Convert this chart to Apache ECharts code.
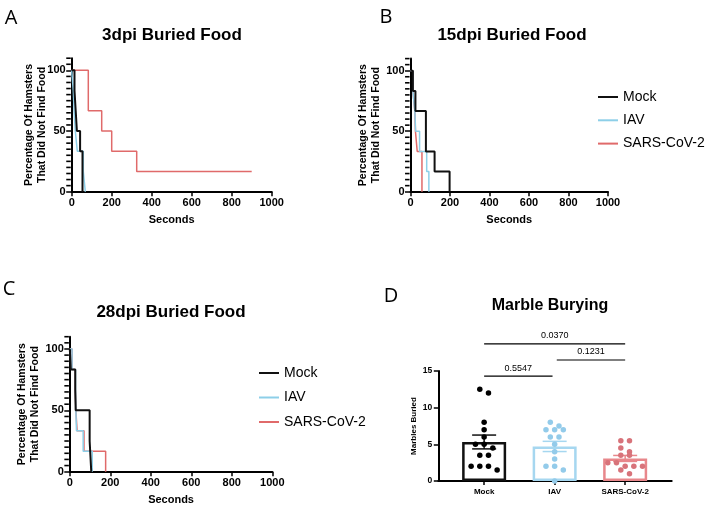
<!DOCTYPE html>
<html><head><meta charset="utf-8">
<script src="https://cdn.jsdelivr.net/npm/echarts@6/dist/echarts.min.js"></script>
<style>html,body{margin:0;padding:0;background:#fff}#c{width:712px;height:513px}</style>
</head><body><div id="c"></div>
<script>
// ---------- data ----------
const seriesNames = ['Mock', 'IAV', 'SARS-CoV-2'];
const panelTitles = ['3dpi Buried Food', '15dpi Buried Food', '28dpi Buried Food'];
const secondsTicks = [0, 200, 400, 600, 800, 1000];
const percentTicks = [0, 50, 100];
const percentMinorTicks = [5, 10, 15, 20, 25, 30, 35, 40, 45, 55, 60, 65, 70, 75, 80, 85, 90, 95, 105, 110];

// Panel A: 3dpi (time in seconds, percent not found)
const a_mock_t = [0, 14, 20, 26, 42, 54];
const a_mock_s = [100, 83.3, 66.7, 50, 33.3, 0];
const a_iav_t  = [0, 8, 12, 18, 28, 58, 68];
const a_iav_s  = [100, 83.3, 66.7, 50, 33.3, 16.7, 0];
const a_sars_t = [0, 83, 150, 200, 325, 900];
const a_sars_s = [100, 66.7, 50, 33.3, 16.7, 16.7];

// Panel B: 15dpi
const b_mock_t = [0, 12, 25, 78, 122, 198];
const b_mock_s = [100, 83.3, 66.7, 33.3, 16.7, 0];
const b_iav_t  = [0, 12, 22, 26, 46, 82, 93];
const b_iav_s  = [100, 83.3, 66.7, 50, 33.3, 16.7, 0];
const b_sars_t = [0, 12, 22, 25, 34, 58];
const b_sars_s = [100, 83.3, 66.7, 50, 33.3, 0];

// Panel C: 28dpi
const c_mock_t = [0, 5, 27, 29, 98, 106];
const c_mock_s = [100, 83.3, 66.7, 50, 25, 0];
const c_iav_t  = [0, 11, 28, 30, 33, 66, 111];
const c_iav_s  = [100, 83.3, 66.7, 50, 33.3, 16.7, 0];
const c_sars_t = [0, 11, 27, 30, 36, 70, 177];
const c_sars_s = [100, 83.3, 66.7, 50, 33.3, 16.7, 0];

// Panel D: marbles buried per animal
const marbleGroups = ['Mock', 'IAV', 'SARS-CoV-2'];
const mock_marbles = [12.5, 12, 8, 7, 6, 5, 5, 4.5, 3.5, 3.5, 2, 2, 2, 1.5];
const iav_marbles  = [8, 7.5, 7, 7, 7, 6, 6, 5, 4, 3, 2, 2, 1.5, 0];
const sars_marbles = [5.5, 5.5, 4.5, 4, 3.5, 3.5, 2.5, 2.5, 2, 2, 2, 1.5, 1];
const marbleTicks = [0, 5, 10, 15];
// comparisons: [group i, group j], p value label, bracket height (marbles)
const cmpPairs  = [[1, 3], [2, 3], [1, 2]];
const cmpLabels = ['0.0370', '0.1231', '0.5547'];
const cmpLevels = [18.7, 16.5, 14.3];

// ---------- styling ----------
const FONT = "'Liberation Sans', Arial, Helvetica, sans-serif";
const kmColors = ['#111111', '#8dcfe8', '#e06a6a'];
const kmWidths = [2, 1.5, 1.5];
const barBorder = ['#111111', '#a6d7f0', '#e8878b'];
const dotColors = ['#000000', '#93cbea', '#d8737a'];

function km(t, s) { return t.map((x, i) => [x, s[i]]); }
const kmData = [
  [km(a_mock_t, a_mock_s), km(a_iav_t, a_iav_s), km(a_sars_t, a_sars_s)],
  [km(b_mock_t, b_mock_s), km(b_iav_t, b_iav_s), km(b_sars_t, b_sars_s)],
  [km(c_mock_t, c_mock_s), km(c_iav_t, c_iav_s), km(c_sars_t, c_sars_s)]
];

const grids = [
  {left: 71.7, top: 58.2, width: 200, height: 133.5},
  {left: 410.5, top: 58.6, width: 197.5, height: 133.1},
  {left: 69.8, top: 336.7, width: 202.5, height: 135},
  {left: 438.3, top: 371, width: 233.4, height: 110}
].map(g => Object.assign({outerBoundsMode: 'none', containLabel: false}, g));

const yNameGaps = [23.5, 27.5, 28];

const xAxes = [], yAxes = [], series = [];
for (let p = 0; p < 3; p++) {
  xAxes.push({
    type: 'value', gridIndex: p, min: 0, max: 1000, interval: 200,
    axisLine: {show: true, onZero: false, lineStyle: {color: '#000', width: 2}},
    axisTick: {show: true, length: 4.5, lineStyle: {color: '#000', width: 1.5}},
    axisLabel: {formatter: v => String(v), color: '#000', fontWeight: 'bold', fontSize: 11, margin: 6, fontFamily: FONT},
    splitLine: {show: false},
    name: 'Seconds', nameLocation: 'middle', nameGap: 23, nameMoveOverlap: false,
    nameTextStyle: {color: '#000', fontWeight: 'bold', fontSize: 11, fontFamily: FONT}
  });
  yAxes.push({
    type: 'value', gridIndex: p, min: 0, max: 110, interval: 50,
    axisLine: {show: true, onZero: false, lineStyle: {color: '#000', width: 2}},
    axisTick: {show: true, length: 5.5, customValues: percentTicks, lineStyle: {color: '#000', width: 1.5}},
    axisLabel: {customValues: percentTicks, color: '#000', fontWeight: 'bold', fontSize: 11, margin: 6, fontFamily: FONT},
    splitLine: {show: false},
    name: 'Percentage Of Hamsters\nThat Did Not Find Food', nameLocation: 'middle', nameGap: yNameGaps[p], nameMoveOverlap: false,
    nameTextStyle: {color: '#000', fontWeight: 'bold', fontSize: 10.5, lineHeight: 13, fontFamily: FONT}
  });
  for (let s = 0; s < 3; s++) {
    series.push({
      type: 'line', name: seriesNames[s], xAxisIndex: p, yAxisIndex: p,
      step: 'end', symbol: 'none', showSymbol: false, data: kmData[p][s],
      lineStyle: {color: kmColors[s], width: kmWidths[s]}, itemStyle: {color: kmColors[s]},
      z: 3 - s, silent: true
    });
  }
  // minor ticks every 5 % drawn as tiny line segments through the axis scales
  percentMinorTicks.forEach(v => {
    series.push({
      type: 'scatter', xAxisIndex: p, yAxisIndex: p, silent: true, clip: false, z: 20,
      symbol: 'rect', symbolSize: [4.5, 1.6], symbolOffset: [-3.2, 0],
      itemStyle: {color: '#000', opacity: 1},
      data: [[0, v]]
    });
  });
}

// Panel D axes
xAxes.push({
  type: 'value', gridIndex: 3, min: 0.35, max: 3.66,
  axisLine: {show: true, onZero: false, lineStyle: {color: '#000', width: 2}},
  axisTick: {show: true, length: 4, customValues: [1, 2, 3], lineStyle: {color: '#000', width: 1.5}},
  axisLabel: {customValues: [1, 2, 3], formatter: v => marbleGroups[Math.round(v) - 1], color: '#000', fontWeight: 'bold', fontSize: 8, margin: 7, fontFamily: FONT},
  splitLine: {show: false}
});
yAxes.push({
  type: 'value', gridIndex: 3, min: 0, max: 15, interval: 5,
  axisLine: {show: true, onZero: false, lineStyle: {color: '#000', width: 2}},
  axisTick: {show: true, length: 4.5, lineStyle: {color: '#000', width: 1.5}},
  axisLabel: {color: '#000', fontWeight: 'bold', fontSize: 8.5, margin: 6, fontFamily: FONT},
  splitLine: {show: false},
  name: 'Marbles Buried', nameLocation: 'middle', nameGap: 21, nameMoveOverlap: false,
  nameTextStyle: {color: '#000', fontWeight: 'bold', fontSize: 8, fontFamily: FONT}
});

const marbleData = [mock_marbles, iav_marbles, sars_marbles];
function mean(a) { return a.reduce((x, y) => x + y, 0) / a.length; }
function sem(a) { const m = mean(a); const v = a.reduce((x, y) => x + (y - m) * (y - m), 0) / (a.length - 1); return Math.sqrt(v / a.length); }
const dotStep = 0.123;
function swarm(values, center) {
  const sorted = values.slice().sort((a, b) => b - a);
  const rows = [];
  sorted.forEach(v => { const r = rows[rows.length - 1]; if (r && r[0] - v <= 0.5) r.push(v); else rows.push([v]); });
  const pts = [];
  rows.forEach(r => r.forEach((v, i) => pts.push([center + (i - (r.length - 1) / 2) * dotStep, v])));
  return pts;
}

series.push({
  type: 'bar', xAxisIndex: 3, yAxisIndex: 3, barWidth: 44, silent: true, z: 2,
  data: marbleData.map((d, i) => ({value: [i + 1, mean(d)], itemStyle: {color: '#fff', borderColor: barBorder[i], borderWidth: 2.5}}))
});
series.push({
  type: 'custom', xAxisIndex: 3, yAxisIndex: 3, silent: true, z: 4,
  data: marbleData.map((d, i) => [i + 1, mean(d) - sem(d), mean(d) + sem(d), i]),
  encode: {x: 0, y: [1, 2]},
  renderItem: function (params, api) {
    const x = api.value(0), lo = api.value(1), hi = api.value(2), ci = api.value(3);
    const p1 = api.coord([x, lo]), p2 = api.coord([x, hi]);
    const hw = 12;
    const st = {stroke: barBorder[ci], lineWidth: 1.5};
    return {type: 'group', children: [
      {type: 'line', shape: {x1: p1[0], y1: p1[1], x2: p2[0], y2: p2[1]}, style: st},
      {type: 'line', shape: {x1: p1[0] - hw, y1: p1[1], x2: p1[0] + hw, y2: p1[1]}, style: st},
      {type: 'line', shape: {x1: p2[0] - hw, y1: p2[1], x2: p2[0] + hw, y2: p2[1]}, style: st}
    ]};
  }
});
marbleData.forEach((d, i) => {
  series.push({
    type: 'scatter', xAxisIndex: 3, yAxisIndex: 3, symbolSize: 5.5, silent: true, z: 5,
    itemStyle: {color: dotColors[i], opacity: 1},
    data: swarm(d, i + 1)
  });
});
series.push({
  type: 'custom', xAxisIndex: 3, yAxisIndex: 3, silent: true, z: 6, clip: false,
  data: cmpPairs.map((pr, k) => [pr[0], pr[1], cmpLevels[k], k]),
  encode: {x: [0, 1], y: 2},
  renderItem: function (params, api) {
    const a = api.value(0), b = api.value(1), lv = api.value(2), k = api.value(3);
    const gap = 0.03;
    const xa = (a === 1 ? a : a + gap), xb = (b === 3 ? b : b - gap);
    const p1 = api.coord([xa, lv]), p2 = api.coord([xb, lv]);
    return {type: 'group', children: [
      {type: 'line', shape: {x1: p1[0], y1: p1[1], x2: p2[0], y2: p2[1]}, style: {stroke: '#000', lineWidth: 1.2}},
      {type: 'text', x: (p1[0] + p2[0]) / 2, y: p1[1] - 3.5, style: {text: cmpLabels[k], align: 'center', verticalAlign: 'bottom', fontSize: 9, fontFamily: FONT, fill: '#000'}}
    ]};
  }
});

const titleText = (t, x, y, size) => ({type: 'text', x: x, y: y, style: {text: t, align: 'center', verticalAlign: 'middle', font: 'bold ' + size + 'px ' + FONT, fill: '#000'}});
const letter = (t, x, y) => ({type: 'text', x: x, y: y, style: {text: t, align: 'center', verticalAlign: 'middle', font: "20px 'Open Sans', 'Liberation Sans', sans-serif", fill: '#000'}});

const legendCommon = {
  data: seriesNames, orient: 'vertical', icon: 'rect', itemWidth: 20, itemHeight: 2,
  textStyle: {fontSize: 14, color: '#000', lineHeight: 16, fontFamily: FONT}, selectedMode: false
};

const option = {
  backgroundColor: '#fff',
  animation: false,
  grid: grids,
  xAxis: xAxes,
  yAxis: yAxes,
  legend: [
    Object.assign({left: 593, top: 84, itemGap: 7.3}, legendCommon),
    Object.assign({left: 254, top: 360, itemGap: 8.5}, legendCommon)
  ],
  graphic: [
    titleText(panelTitles[0], 172, 35, 17),
    titleText(panelTitles[1], 512, 35, 17),
    titleText(panelTitles[2], 171, 312, 17),
    titleText('Marble Burying', 550, 306, 16),
    letter('A', 11, 18), letter('B', 386, 17), letter('C', 9, 289), letter('D', 391, 296)
  ],
  series: series
};
const chart = echarts.init(document.getElementById('c'), null, {renderer: 'canvas'});
chart.setOption(option);
</script></body></html>
